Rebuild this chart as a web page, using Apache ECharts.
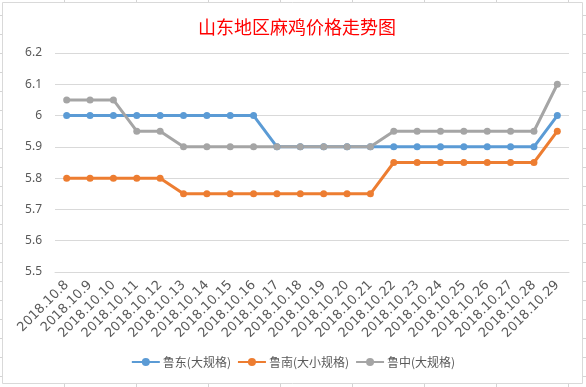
<!DOCTYPE html>
<html>
<head>
<meta charset="utf-8">
<script src="https://cdn.jsdelivr.net/npm/echarts@6/dist/echarts.min.js"></script>
<style>
html,body{margin:0;padding:0;background:#fff;}
#c{width:586px;height:387px;}
</style>
</head>
<body>
<div id="c"></div>
<script>
const titleText = '山东地区麻鸡价格走势图';
const categories = ['2018.10.8','2018.10.9','2018.10.10','2018.10.11','2018.10.12','2018.10.13','2018.10.14','2018.10.15','2018.10.16','2018.10.17','2018.10.18','2018.10.19','2018.10.20','2018.10.21','2018.10.22','2018.10.23','2018.10.24','2018.10.25','2018.10.26','2018.10.27','2018.10.28','2018.10.29'];
const seriesNames = ['鲁东(大规格)','鲁南(大小规格)','鲁中(大规格)'];
const ludong = [6,6,6,6,6,6,6,6,6,5.9,5.9,5.9,5.9,5.9,5.9,5.9,5.9,5.9,5.9,5.9,5.9,6.0];
const lunan = [5.8,5.8,5.8,5.8,5.8,5.75,5.75,5.75,5.75,5.75,5.75,5.75,5.75,5.75,5.85,5.85,5.85,5.85,5.85,5.85,5.85,5.95];
const luzhong = [6.05,6.05,6.05,5.95,5.95,5.9,5.9,5.9,5.9,5.9,5.9,5.9,5.9,5.9,5.95,5.95,5.95,5.95,5.95,5.95,5.95,6.1];
const yTicks = [5.5,5.6,5.7,5.8,5.9,6,6.1,6.2];

const colors = ['#5B9BD5','#ED7D31','#A5A5A5'];
const values = [ludong, lunan, luzhong];

// decorative spreadsheet cell-edge stubs around the chart object
const deco = [];
const stubStyle = {stroke:'#D4D4D4', lineWidth:1};
[64,136,208,280,352,424,496,568].forEach(x=>{
  deco.push({type:'line', shape:{x1:x+0.5,y1:0,x2:x+0.5,y2:2}, style:stubStyle, silent:true});
  deco.push({type:'line', shape:{x1:x+0.5,y1:384,x2:x+0.5,y2:387}, style:stubStyle, silent:true});
});
for(let y=15;y<387;y+=19){
  deco.push({type:'line', shape:{x1:0,y1:y+0.5,x2:2,y2:y+0.5}, style:stubStyle, silent:true});
  deco.push({type:'line', shape:{x1:583,y1:y+0.5,x2:586,y2:y+0.5}, style:stubStyle, silent:true});
}
deco.push({type:'rect', shape:{x:2.5,y:2.5,width:580,height:381}, style:{fill:'none', stroke:'#D9D9D9', lineWidth:1}, silent:true});

const chart = echarts.init(document.getElementById('c'));
chart.setOption({
  animation:false,
  backgroundColor:'#fff',
  title:{
    text:titleText, left:292, textAlign:'center', top:13,
    textStyle:{color:'#FF0000', fontSize:18, fontWeight:'normal', fontFamily:'"Noto Sans CJK SC", sans-serif'}
  },
  color:colors,
  legend:{
    bottom:14, left:'center', itemWidth:28, itemHeight:10, itemGap:6,
    textStyle:{color:'#595959', fontSize:12, padding:[0,0,0,-2], fontFamily:'"Noto Sans CJK SC", sans-serif'},
    data:seriesNames
  },
  grid:{left:55, right:17, top:53, bottom:115},
  xAxis:{
    type:'category', data:categories, boundaryGap:true,
    axisLine:{lineStyle:{color:'#D9D9D9'}},
    axisTick:{show:false},
    axisLabel:{rotate:45, interval:0, color:'#595959', fontSize:13, margin:11, fontFamily:'"DejaVu Sans", sans-serif'}
  },
  yAxis:{
    type:'value', min:yTicks[0], max:yTicks[yTicks.length-1], interval:0.1,
    axisLine:{show:false}, axisTick:{show:false},
    splitLine:{lineStyle:{color:'#D9D9D9'}},
    axisLabel:{color:'#595959', fontSize:12, margin:13, fontFamily:'"Noto Sans", sans-serif',
      formatter:v=>String(Math.round(v*10)/10)}
  },
  series:seriesNames.map((n,i)=>({
    name:n, type:'line', data:values[i],
    symbol:'circle', symbolSize:7,
    lineStyle:{width:3, color:colors[i]},
    itemStyle:{color:colors[i]}
  })),
  graphic:deco
});
</script>
</body>
</html>
